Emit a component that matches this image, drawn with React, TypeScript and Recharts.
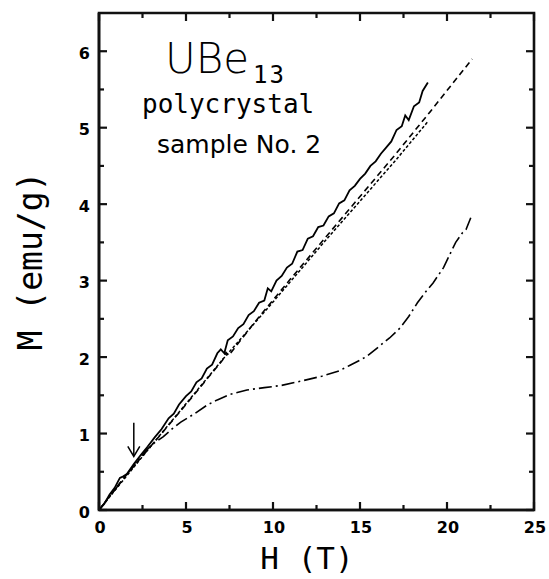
import React from "react";
import { LineChart, Line, XAxis, YAxis, ReferenceLine, ReferenceArea, Customized } from "recharts";

// field H (T) and magnetisation M (emu/g)
const solidH = [0, 0.3, 0.6, 0.9, 1.2, 1.4, 1.6, 2.0, 2.4, 2.8, 3.2, 3.6, 4.0, 4.3, 4.6, 5.0, 5.3, 5.6, 5.9, 6.2, 6.5, 6.8, 7.0, 7.2, 7.4, 7.7, 8.0, 8.3, 8.6, 8.9, 9.2, 9.5, 9.7, 9.9, 10.2, 10.5, 10.8, 11.1, 11.4, 11.7, 12.0, 12.3, 12.6, 12.9, 13.2, 13.5, 13.8, 14.1, 14.4, 14.7, 15.0, 15.3, 15.6, 15.9, 16.2, 16.5, 16.8, 17.1, 17.4, 17.6, 17.8, 18.1, 18.4, 18.6, 18.9];
const solidM = [0, 0.08, 0.2, 0.29, 0.42, 0.44, 0.47, 0.6, 0.72, 0.83, 0.95, 1.06, 1.2, 1.26, 1.38, 1.49, 1.55, 1.67, 1.72, 1.85, 1.9, 2.05, 2.1, 2.05, 2.22, 2.27, 2.38, 2.43, 2.55, 2.6, 2.71, 2.74, 2.9, 2.86, 3.0, 3.06, 3.17, 3.22, 3.38, 3.4, 3.55, 3.58, 3.7, 3.72, 3.84, 3.88, 4.01, 4.05, 4.18, 4.24, 4.33, 4.4, 4.5, 4.56, 4.66, 4.74, 4.82, 4.97, 5.02, 5.16, 5.1, 5.28, 5.33, 5.48, 5.59];

const dashH = [0, 1.5, 3, 5, 7.1, 7.3, 7.45, 9, 11, 13, 15, 17, 19, 21.45];
const dashM = [0, 0.44, 0.84, 1.38, 1.96, 2.06, 2.02, 2.47, 3.02, 3.56, 4.1, 4.64, 5.2, 5.9];

const dotH = [0, 3, 7, 10, 13, 15, 17, 18.9];
const dotM = [0, 0.84, 1.94, 2.72, 3.52, 4.04, 4.56, 5.08];

const dashDotH = [0, 1, 2, 2.7, 3.2, 3.7, 4.2, 4.7, 5.5, 6.2, 6.8, 7.5, 8.5, 9.5, 10.5, 11.5, 12.8, 13.8, 14.4, 15.0, 15.4, 16.1, 16.7, 17.3, 17.8, 18.3, 18.8, 19.2, 19.8, 20.2, 20.5, 20.9, 21.1, 21.45];
const dashDotM = [0, 0.29, 0.58, 0.78, 0.88, 0.96, 1.06, 1.15, 1.26, 1.37, 1.44, 1.51, 1.57, 1.6, 1.63, 1.68, 1.75, 1.82, 1.89, 1.96, 2.01, 2.14, 2.25, 2.38, 2.53, 2.71, 2.86, 2.97, 3.17, 3.36, 3.5, 3.63, 3.67, 3.87];

const xDomain = [0, 25];
const yDomain = [0, 6.5];
const xTicks = [0, 2.5, 5, 7.5, 10, 12.5, 15, 17.5, 20, 22.5, 25];
const yTicks = [0, 0.5, 1, 1.5, 2, 2.5, 3, 3.5, 4, 4.5, 5, 5.5, 6];

// arrow marking the field where the curves part
const arrowH = 2.0;
const arrowTop = 1.14;
const arrowTip = 0.7;

const zip = (h: number[], m: number[]) => h.map((v, i) => ({ h: v, m: m[i] }));
const solidPts = zip(solidH, solidM);
const dashPts = zip(dashH, dashM);
const dotPts = zip(dotH, dotM);
const dashDotPts = zip(dashDotH, dashDotM);

const tickFont = { fontFamily: "'DejaVu Sans', sans-serif", fontSize: 16, fontWeight: 600, fill: "#000" };

const isMajorX = (v: number) => v % 5 === 0;
const isMajorY = (v: number) => v % 1 === 0;

function BottomLabel(props: any) {
  const { x, y, payload } = props;
  if (!isMajorX(payload.value)) return <g />;
  return (
    <text x={x + 1} y={y + 23} textAnchor="middle" {...tickFont}>
      {payload.value}
    </text>
  );
}

function LeftLabel(props: any) {
  const { x, y, payload } = props;
  if (!isMajorY(payload.value)) return <g />;
  return (
    <text x={x - 9} y={y + 7.5} textAnchor="end" {...tickFont}>
      {payload.value}
    </text>
  );
}

// inward tick marks on both ends of a vertical / horizontal reference line
function XTickMarks(len: number) {
  return function Marks(props: any) {
    const { x1, y1, y2 } = props;
    const top = Math.min(y1, y2);
    const bot = Math.max(y1, y2);
    return (
      <g stroke="#111" strokeWidth={2.2}>
        <line x1={x1} y1={bot} x2={x1} y2={bot - len} />
        <line x1={x1} y1={top} x2={x1} y2={top + len} />
      </g>
    );
  };
}

function YTickMarks(len: number) {
  return function Marks(props: any) {
    const { x1, x2, y1 } = props;
    const left = Math.min(x1, x2);
    const right = Math.max(x1, x2);
    return (
      <g stroke="#111" strokeWidth={2.2}>
        <line x1={left} y1={y1} x2={left + len} y2={y1} />
        <line x1={right} y1={y1} x2={right - len} y2={y1} />
      </g>
    );
  };
}

function ArrowShape(props: any) {
  const { x1, y1, x2, y2 } = props;
  return (
    <g>
      <line x1={x1} y1={y1} x2={x2} y2={y2 - 1} stroke="#000" strokeWidth={1.5} />
      <path
        d={`M${x2 - 6},${y2 - 10} L${x2},${y2} L${x2 + 6},${y2 - 10}`}
        fill="none"
        stroke="#000"
        strokeWidth={1.5}
      />
    </g>
  );
}

function Titles() {
  return (
    <g fill="#000">
      <text x={165} y={73} fontFamily="'DejaVu Sans', sans-serif" fontWeight={200} fontSize={42}>
        UBe
      </text>
      <text x={253} y={83} fontFamily="'DejaVu Sans Mono', monospace" fontWeight={300} fontSize={24} letterSpacing={2}>
        13
      </text>
      <text x={142} y={113} fontFamily="'DejaVu Sans Mono', monospace" fontSize={26}>
        polycrystal
      </text>
      <text x={157} y={153} fontFamily="'DejaVu Sans', sans-serif" fontSize={25}>
        sample No. 2
      </text>
      <text
        transform="translate(42,261) rotate(-90)"
        textAnchor="middle"
        fontFamily="'DejaVu Sans Mono', monospace"
        fontSize={33}
      >
        M (emu/g)
      </text>
      <text x={307} y={569} textAnchor="middle" fontFamily="'DejaVu Sans Mono', monospace" fontSize={31}>
        H (T)
      </text>
    </g>
  );
}

export default function App() {
  const frame = { stroke: "#111", strokeWidth: 2.6 };
  return (
    <div style={{ position: "absolute", left: 0, top: 0, width: 549, height: 579, background: "#fff" }}>
      <LineChart width={549} height={579} margin={{ top: 13, right: 15, bottom: 0, left: 0 }}>
        <XAxis
          dataKey="h"
          type="number"
          domain={xDomain}
          ticks={xTicks}
          interval={0}
          height={69}
          tickSize={0}
          tickMargin={0}
          tickLine={false}
          axisLine={frame}
          tick={<BottomLabel />}
        />
        <YAxis
          type="number"
          domain={yDomain}
          ticks={yTicks}
          interval={0}
          width={99}
          tickSize={0}
          tickMargin={0}
          tickLine={false}
          axisLine={frame}
          tick={<LeftLabel />}
        />
        <ReferenceArea
          x1={xDomain[0]}
          x2={xDomain[1]}
          y1={yDomain[0]}
          y2={yDomain[1]}
          fill="none"
          stroke="#111"
          strokeWidth={2.6}
          ifOverflow="visible"
        />
        {xTicks.map((v) => (
          <ReferenceLine key={`x${v}`} x={v} ifOverflow="visible" shape={XTickMarks(isMajorX(v) ? 8 : 5)} />
        ))}
        {yTicks.map((v) => (
          <ReferenceLine key={`y${v}`} y={v} ifOverflow="visible" shape={YTickMarks(isMajorY(v) ? 8 : 5)} />
        ))}
        <Line
          data={dashDotPts}
          dataKey="m"
          type="linear"
          stroke="#000"
          strokeWidth={1.6}
          strokeDasharray="13 4 2 4"
          dot={false}
          isAnimationActive={false}
        />
        <Line
          data={dotPts}
          dataKey="m"
          type="linear"
          stroke="#000"
          strokeWidth={1.5}
          strokeDasharray="3 2"
          dot={false}
          isAnimationActive={false}
        />
        <Line
          data={dashPts}
          dataKey="m"
          type="linear"
          stroke="#000"
          strokeWidth={1.6}
          strokeDasharray="6 4"
          dot={false}
          isAnimationActive={false}
        />
        <Line
          data={solidPts}
          dataKey="m"
          type="linear"
          stroke="#000"
          strokeWidth={1.8}
          dot={false}
          isAnimationActive={false}
        />
        <ReferenceLine
          segment={[
            { x: arrowH, y: arrowTop },
            { x: arrowH, y: arrowTip },
          ]}
          shape={<ArrowShape />}
        />
        <Customized component={Titles} />
      </LineChart>
    </div>
  );
}
